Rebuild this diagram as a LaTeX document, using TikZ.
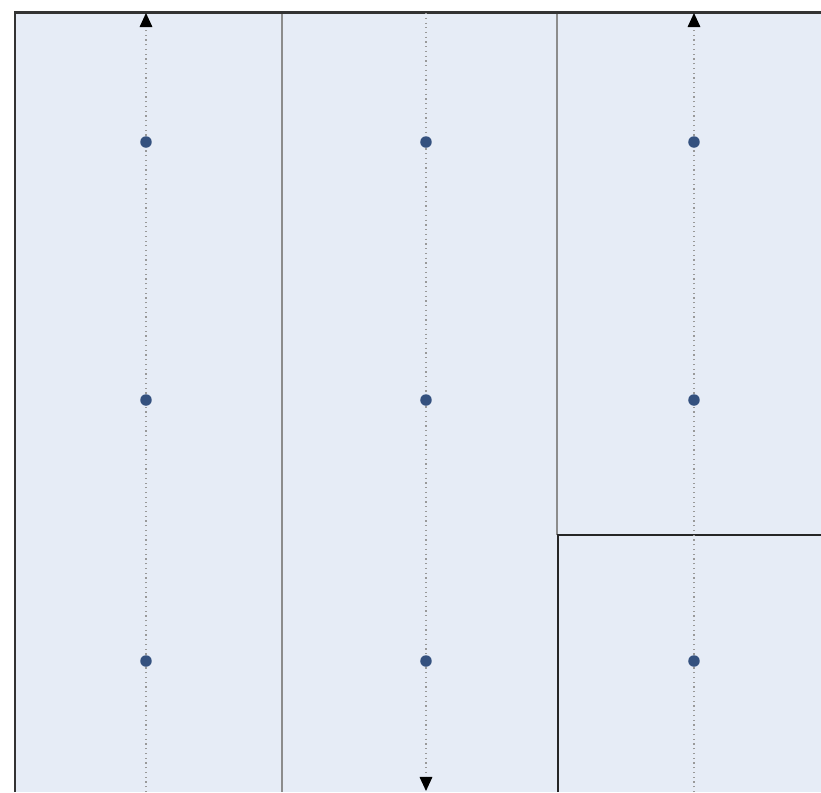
\documentclass[tikz,border=0pt]{standalone}
\usepackage{tikz}
\usetikzlibrary{arrows.meta}
\definecolor{fons}{HTML}{E6ECF6}
\definecolor{blaupunt}{HTML}{34517F}
\begin{document}
\begin{tikzpicture}[x=0.1mm,y=-0.1mm,
  punt/.style={circle,fill=blaupunt,inner sep=0pt,minimum size=1.15mm},
  guia/.style={densely dotted,gray!80,line width=0.35pt},
  fletxa/.style={guia,-{Triangle[length=4pt,width=3.6pt,black]}}]
  \useasboundingbox (0,0) rectangle (821,792);
  % Fons
  \fill[fons] (15,12) rectangle (821,792);
  % Separacions fines
  \draw[gray!90,line width=0.3pt] (282,12) -- (282,792);
  \draw[gray!90,line width=0.3pt] (557,12) -- (557,535);
  % Caixa inferior dreta
  \draw[black!85,line width=0.75pt] (558,792) -- (558,535) -- (821,535);
  % Vores
  \draw[black!80,line width=0.85pt] (15,792) -- (15,12) -- (821,12);
  % Punts
  \node[punt] (a1) at (146,142) {};
  \node[punt] (a2) at (146,400) {};
  \node[punt] (a3) at (146,661) {};
  \node[punt] (b1) at (426,142) {};
  \node[punt] (b2) at (426,400) {};
  \node[punt] (b3) at (426,661) {};
  \node[punt] (c1) at (694,142) {};
  \node[punt] (c2) at (694,400) {};
  \node[punt] (c3) at (694,661) {};
  % Extrems
  \coordinate (aini) at (146,792);
  \coordinate (afi)  at (146,13);
  \coordinate (bini) at (426,13);
  \coordinate (bfi)  at (426,791);
  \coordinate (cini) at (694,792);
  \coordinate (cfi)  at (694,13);
  % Guies
  \draw[guia] (aini) -- (a3) -- (a2) -- (a1);
  \draw[fletxa] (a1) -- (afi);
  \draw[guia] (bini) -- (b1) -- (b2) -- (b3);
  \draw[fletxa] (b3) -- (bfi);
  \draw[guia] (cini) -- (c3) -- (c2) -- (c1);
  \draw[fletxa] (c1) -- (cfi);
\end{tikzpicture}
\end{document}
